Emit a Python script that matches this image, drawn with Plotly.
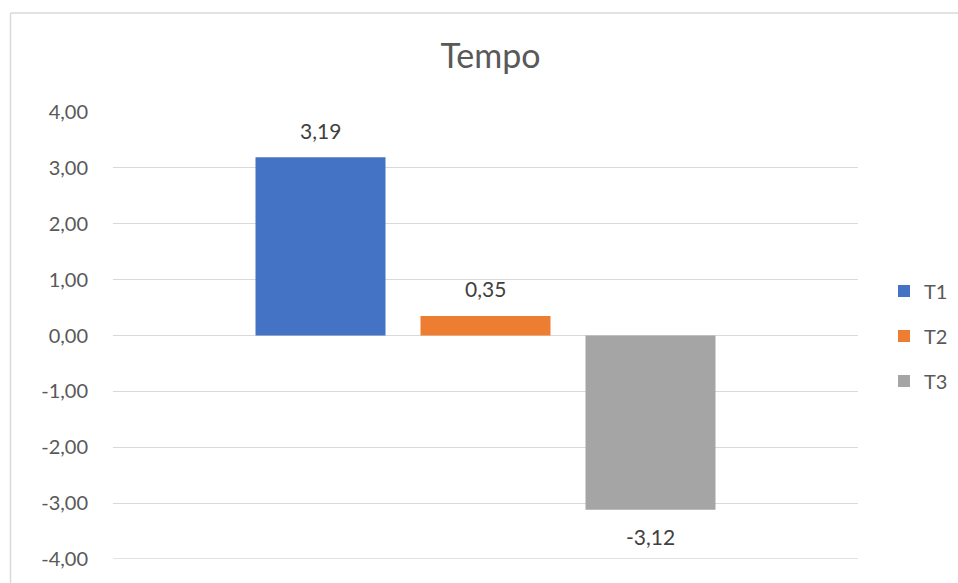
import plotly.graph_objects as go

# Chart data
series_names = ["T1", "T2", "T3"]
series_values = [3.19, 0.35, -3.12]
series_colors = ["#4472C4", "#ED7D31", "#A5A5A5"]
tick_values = [-4, -3, -2, -1, 0, 1, 2, 3, 4]
tick_labels = ["-4,00", "-3,00", "-2,00", "-1,00", "0,00", "1,00", "2,00", "3,00", "4,00"]

FONT = "Lato, Open Sans, sans-serif"
TEXT_COLOR = "#595959"
LABEL_COLOR = "#404040"
GRID_COLOR = "#D9D9D9"

W, H = 958, 583
L, R, T, B = 113, 858, 112, 559   # plot area in pixels
SLOT = 165                          # pixels per series slot
BAR_W = 130 / SLOT                  # bar width in slot units


def px_x(p):
    return (p - L) / (R - L)


def px_y(p):
    return (B - p) / (B - T)


half_span = (R - L) / SLOT / 2
x_center = (len(series_names) - 1) / 2

fig = go.Figure()
annotations = []
for i, (name, val, col) in enumerate(zip(series_names, series_values, series_colors)):
    fig.add_trace(go.Bar(
        name=name,
        x=[i],
        y=[val],
        width=BAR_W,
        marker=dict(color=col, line=dict(width=0)),
        legendgroup=name,
        hoverinfo="name+y",
    ))
    annotations.append(dict(
        x=i, y=val, xref="x", yref="y",
        text=f"{val:.2f}".replace(".", ","),
        showarrow=False,
        xanchor="center", yanchor="middle",
        yshift=27 if val >= 0 else -27,
        font=dict(family=FONT, size=21, color=LABEL_COLOR),
    ))

fig.update_layout(
    width=W,
    height=H,
    margin=dict(l=L, r=W - R, t=T, b=H - B, pad=0, autoexpand=False),
    paper_bgcolor="white",
    plot_bgcolor="white",
    barmode="overlay",
    title=dict(
        text="Tempo",
        x=px_x(490.5),
        xref="paper",
        xanchor="center",
        y=1 - 56 / H,
        yanchor="middle",
        font=dict(family=FONT, size=34, color=TEXT_COLOR),
    ),
    font=dict(family=FONT, color=TEXT_COLOR),
    showlegend=True,
    legend=dict(
        xref="container",
        yref="container",
        x=884 / W,
        xanchor="left",
        y=1 - 336 / H,
        yanchor="middle",
        font=dict(family=FONT, size=20, color=TEXT_COLOR),
        tracegroupgap=16,
        itemwidth=30,
        bgcolor="rgba(0,0,0,0)",
    ),
    xaxis=dict(
        range=[x_center - half_span, x_center + half_span],
        showticklabels=False,
        showgrid=False,
        zeroline=False,
        showline=False,
        fixedrange=True,
    ),
    yaxis=dict(
        range=[-4, 4],
        tickvals=tick_values,
        ticktext=tick_labels,
        tickfont=dict(family=FONT, size=20, color=TEXT_COLOR),
        ticklabelstandoff=24,
        showgrid=True,
        gridcolor=GRID_COLOR,
        gridwidth=1.3,
        zeroline=True,
        zerolinecolor=GRID_COLOR,
        zerolinewidth=1.3,
        showline=False,
        ticks="",
    ),
    annotations=annotations,
    shapes=[
        dict(type="line", xref="paper", yref="paper",
             x0=px_x(10.5), x1=px_x(960), y0=px_y(13), y1=px_y(13),
             line=dict(color=GRID_COLOR, width=1.5)),
        dict(type="line", xref="paper", yref="paper",
             x0=px_x(10.5), x1=px_x(10.5), y0=px_y(13), y1=px_y(590),
             line=dict(color=GRID_COLOR, width=1.5)),
        dict(type="line", xref="paper", yref="y",
             x0=0, x1=1, y0=-4, y1=-4,
             line=dict(color=GRID_COLOR, width=1.3), layer="below"),
    ],
)

fig.write_html("out.html")
